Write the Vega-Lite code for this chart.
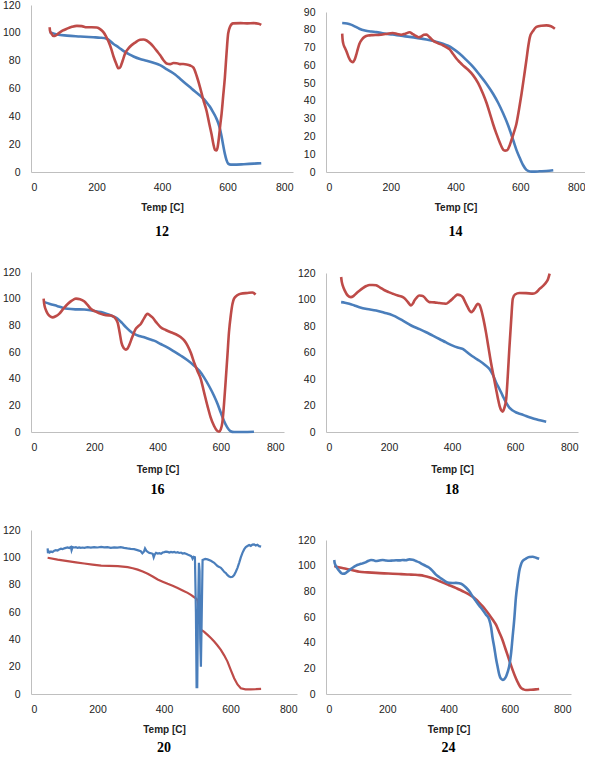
{
  "$schema": "https://vega.github.io/schema/vega-lite/v6.json",
  "background": "white",
  "padding": {"left": 2, "top": 0, "right": 0, "bottom": 0},
  "config": {
    "view": {"stroke": null},
    "axis": {"grid": false, "ticks": false, "tickSize": 0, "domainColor": "#bfbfbf", "domainWidth": 1, "labelFont": "Liberation Sans", "labelFontSize": 10.5, "labelColor": "#222", "titleFont": "Liberation Sans", "titleFontSize": 10, "titleFontWeight": "bold", "titleColor": "#222"},
    "axisX": {"labelPadding": 10.5},
    "axisY": {"labelPadding": 11},
    "title": {"orient": "bottom", "font": "Liberation Serif", "fontSize": 14, "fontWeight": "bold", "color": "#000"},
    "line": {"strokeWidth": 2.6, "interpolate": "monotone"}
  },
  "datasets": {
    "p12": [
      {"s":"b","t":57,"v":100.5},{"s":"b","t":80,"v":98.8},{"s":"b","t":110,"v":98},{"s":"b","t":150,"v":97.4},{"s":"b","t":190,"v":96.8},{"s":"b","t":211,"v":96.5},{"s":"b","t":231,"v":95.8},{"s":"b","t":252,"v":92},{"s":"b","t":268,"v":89.5},{"s":"b","t":282,"v":87},{"s":"b","t":300,"v":84.5},{"s":"b","t":313,"v":83},{"s":"b","t":333,"v":81.2},{"s":"b","t":353,"v":80},{"s":"b","t":374,"v":78.5},{"s":"b","t":394,"v":76.8},{"s":"b","t":410,"v":74.5},{"s":"b","t":424,"v":72.5},{"s":"b","t":440,"v":70},{"s":"b","t":455,"v":67},{"s":"b","t":470,"v":64},{"s":"b","t":485,"v":61},{"s":"b","t":500,"v":58},{"s":"b","t":516,"v":55},{"s":"b","t":528,"v":52.3},{"s":"b","t":536,"v":50},{"s":"b","t":546,"v":47},{"s":"b","t":556,"v":43},{"s":"b","t":564,"v":39.5},{"s":"b","t":572,"v":35},{"s":"b","t":578,"v":30},{"s":"b","t":582,"v":25.5},{"s":"b","t":587,"v":19},{"s":"b","t":592,"v":13},{"s":"b","t":597,"v":8.5},{"s":"b","t":602,"v":6},{"s":"b","t":610,"v":5.3},{"s":"b","t":617,"v":5.3},{"s":"b","t":650,"v":5.6},{"s":"b","t":680,"v":6},{"s":"b","t":703,"v":6.4},
      {"s":"r","t":57,"v":104},{"s":"r","t":58,"v":101.5},{"s":"r","t":62,"v":99.6},{"s":"r","t":69,"v":97.7},{"s":"r","t":76,"v":98.2},{"s":"r","t":84,"v":99.6},{"s":"r","t":96,"v":101.5},{"s":"r","t":110,"v":103},{"s":"r","t":125,"v":104.3},{"s":"r","t":140,"v":105},{"s":"r","t":155,"v":104.8},{"s":"r","t":170,"v":104},{"s":"r","t":185,"v":104},{"s":"r","t":201,"v":103.8},{"s":"r","t":212,"v":102.5},{"s":"r","t":221,"v":100.5},{"s":"r","t":229,"v":97.5},{"s":"r","t":237,"v":93.6},{"s":"r","t":245,"v":88.5},{"s":"r","t":252,"v":83},{"s":"r","t":260,"v":78},{"s":"r","t":267,"v":74.5},{"s":"r","t":272,"v":75},{"s":"r","t":277,"v":78},{"s":"r","t":282,"v":81.5},{"s":"r","t":287,"v":85},{"s":"r","t":295,"v":88},{"s":"r","t":302,"v":90},{"s":"r","t":318,"v":93},{"s":"r","t":333,"v":95},{"s":"r","t":343,"v":95.2},{"s":"r","t":353,"v":94.5},{"s":"r","t":364,"v":92.5},{"s":"r","t":374,"v":90},{"s":"r","t":384,"v":87},{"s":"r","t":394,"v":84},{"s":"r","t":404,"v":80.5},{"s":"r","t":414,"v":78},{"s":"r","t":425,"v":77.5},{"s":"r","t":435,"v":78.3},{"s":"r","t":445,"v":78.2},{"s":"r","t":455,"v":77.5},{"s":"r","t":465,"v":77.6},{"s":"r","t":475,"v":77.3},{"s":"r","t":486,"v":76.5},{"s":"r","t":496,"v":75},{"s":"r","t":506,"v":69},{"s":"r","t":516,"v":61},{"s":"r","t":526,"v":52},{"s":"r","t":536,"v":44},{"s":"r","t":544,"v":35},{"s":"r","t":551,"v":27.5},{"s":"r","t":557,"v":20},{"s":"r","t":562,"v":15.8},{"s":"r","t":566,"v":15.5},{"s":"r","t":570,"v":18},{"s":"r","t":574,"v":25},{"s":"r","t":578,"v":34},{"s":"r","t":582,"v":42},{"s":"r","t":587,"v":55},{"s":"r","t":592,"v":68},{"s":"r","t":597,"v":85},{"s":"r","t":602,"v":99.5},{"s":"r","t":608,"v":104.5},{"s":"r","t":617,"v":106.8},{"s":"r","t":640,"v":107},{"s":"r","t":660,"v":106.8},{"s":"r","t":680,"v":107},{"s":"r","t":695,"v":106.6},{"s":"r","t":703,"v":105.7}
    ],
    "p14": [
      {"s":"b","t":50,"v":83.8},{"s":"b","t":65,"v":83.5},{"s":"b","t":77,"v":82.9},{"s":"b","t":90,"v":81.8},{"s":"b","t":103,"v":80.6},{"s":"b","t":120,"v":79.6},{"s":"b","t":140,"v":79},{"s":"b","t":155,"v":78.7},{"s":"b","t":180,"v":77.9},{"s":"b","t":206,"v":77.3},{"s":"b","t":232,"v":76.6},{"s":"b","t":258,"v":76},{"s":"b","t":284,"v":75.3},{"s":"b","t":310,"v":74.5},{"s":"b","t":336,"v":73.5},{"s":"b","t":361,"v":72.2},{"s":"b","t":377,"v":71},{"s":"b","t":392,"v":69.4},{"s":"b","t":413,"v":66.5},{"s":"b","t":434,"v":62.9},{"s":"b","t":455,"v":59},{"s":"b","t":475,"v":54.5},{"s":"b","t":496,"v":49.5},{"s":"b","t":516,"v":44},{"s":"b","t":532,"v":38.8},{"s":"b","t":547,"v":33},{"s":"b","t":563,"v":26},{"s":"b","t":578,"v":18},{"s":"b","t":589,"v":12},{"s":"b","t":599,"v":7.7},{"s":"b","t":609,"v":3.8},{"s":"b","t":619,"v":1.2},{"s":"b","t":630,"v":0.3},{"s":"b","t":640,"v":0.2},{"s":"b","t":660,"v":0.4},{"s":"b","t":680,"v":0.6},{"s":"b","t":702,"v":1},
      {"s":"r","t":50,"v":77.8},{"s":"r","t":51,"v":75},{"s":"r","t":53,"v":72.5},{"s":"r","t":58,"v":70},{"s":"r","t":64,"v":67.5},{"s":"r","t":70,"v":64.5},{"s":"r","t":76,"v":62.5},{"s":"r","t":83,"v":61.8},{"s":"r","t":88,"v":63},{"s":"r","t":93,"v":65.7},{"s":"r","t":98,"v":69},{"s":"r","t":103,"v":72},{"s":"r","t":111,"v":74.5},{"s":"r","t":119,"v":76},{"s":"r","t":130,"v":76.8},{"s":"r","t":144,"v":77},{"s":"r","t":160,"v":77.1},{"s":"r","t":175,"v":77.3},{"s":"r","t":190,"v":77.8},{"s":"r","t":206,"v":78.2},{"s":"r","t":220,"v":77.6},{"s":"r","t":232,"v":77.2},{"s":"r","t":245,"v":77.8},{"s":"r","t":258,"v":78.6},{"s":"r","t":268,"v":77.6},{"s":"r","t":278,"v":76.5},{"s":"r","t":286,"v":75.8},{"s":"r","t":294,"v":76.2},{"s":"r","t":302,"v":77.2},{"s":"r","t":310,"v":77.3},{"s":"r","t":320,"v":75.8},{"s":"r","t":330,"v":74},{"s":"r","t":345,"v":72.5},{"s":"r","t":361,"v":71.3},{"s":"r","t":375,"v":69.8},{"s":"r","t":382,"v":69},{"s":"r","t":392,"v":66.5},{"s":"r","t":402,"v":64},{"s":"r","t":413,"v":61.8},{"s":"r","t":423,"v":60},{"s":"r","t":439,"v":57.5},{"s":"r","t":454,"v":54.5},{"s":"r","t":470,"v":50},{"s":"r","t":485,"v":44},{"s":"r","t":496,"v":38.8},{"s":"r","t":506,"v":33},{"s":"r","t":516,"v":27},{"s":"r","t":526,"v":21.7},{"s":"r","t":537,"v":16.5},{"s":"r","t":547,"v":12.6},{"s":"r","t":553,"v":12},{"s":"r","t":560,"v":12.3},{"s":"r","t":567,"v":14.8},{"s":"r","t":573,"v":18},{"s":"r","t":580,"v":22},{"s":"r","t":588,"v":27},{"s":"r","t":596,"v":35},{"s":"r","t":604,"v":44},{"s":"r","t":612,"v":54},{"s":"r","t":619,"v":63},{"s":"r","t":625,"v":71},{"s":"r","t":630,"v":76},{"s":"r","t":640,"v":79.5},{"s":"r","t":650,"v":81.6},{"s":"r","t":665,"v":82.3},{"s":"r","t":681,"v":82.5},{"s":"r","t":695,"v":82},{"s":"r","t":707,"v":80.6}
    ],
    "p16": [
      {"s":"b","t":42,"v":97.4},{"s":"b","t":60,"v":96},{"s":"b","t":84,"v":94.4},{"s":"b","t":100,"v":93.2},{"s":"b","t":116,"v":92.4},{"s":"b","t":140,"v":92},{"s":"b","t":168,"v":91.9},{"s":"b","t":195,"v":91},{"s":"b","t":221,"v":89.9},{"s":"b","t":240,"v":88.5},{"s":"b","t":253,"v":87.4},{"s":"b","t":264,"v":86.3},{"s":"b","t":274,"v":84.9},{"s":"b","t":287,"v":82},{"s":"b","t":300,"v":78.6},{"s":"b","t":313,"v":75.8},{"s":"b","t":326,"v":73.6},{"s":"b","t":342,"v":72},{"s":"b","t":358,"v":71},{"s":"b","t":373,"v":69.8},{"s":"b","t":389,"v":68.5},{"s":"b","t":410,"v":66},{"s":"b","t":431,"v":63.5},{"s":"b","t":452,"v":60.5},{"s":"b","t":474,"v":57.2},{"s":"b","t":495,"v":53.8},{"s":"b","t":516,"v":49.7},{"s":"b","t":532,"v":46},{"s":"b","t":547,"v":41},{"s":"b","t":563,"v":34.5},{"s":"b","t":579,"v":27},{"s":"b","t":590,"v":21},{"s":"b","t":600,"v":14.6},{"s":"b","t":610,"v":8.5},{"s":"b","t":621,"v":3.3},{"s":"b","t":631,"v":0.6},{"s":"b","t":642,"v":0},{"s":"b","t":670,"v":0},{"s":"b","t":705,"v":0.2},
      {"s":"r","t":40,"v":100},{"s":"r","t":41,"v":97.5},{"s":"r","t":43,"v":94.5},{"s":"r","t":48,"v":91},{"s":"r","t":53,"v":88.6},{"s":"r","t":60,"v":86.8},{"s":"r","t":68,"v":86},{"s":"r","t":78,"v":86.8},{"s":"r","t":89,"v":88.6},{"s":"r","t":102,"v":92.3},{"s":"r","t":116,"v":96},{"s":"r","t":129,"v":98.5},{"s":"r","t":142,"v":100},{"s":"r","t":155,"v":99.6},{"s":"r","t":168,"v":98},{"s":"r","t":179,"v":95.3},{"s":"r","t":189,"v":92.4},{"s":"r","t":205,"v":90.3},{"s":"r","t":221,"v":88.6},{"s":"r","t":237,"v":87.6},{"s":"r","t":253,"v":87.4},{"s":"r","t":264,"v":86},{"s":"r","t":274,"v":82},{"s":"r","t":280,"v":75},{"s":"r","t":286,"v":67},{"s":"r","t":293,"v":63},{"s":"r","t":300,"v":61.8},{"s":"r","t":305,"v":62.5},{"s":"r","t":310,"v":64.8},{"s":"r","t":320,"v":71},{"s":"r","t":331,"v":77.3},{"s":"r","t":340,"v":79.5},{"s":"r","t":347,"v":81},{"s":"r","t":357,"v":85},{"s":"r","t":368,"v":88.6},{"s":"r","t":376,"v":87.5},{"s":"r","t":384,"v":86},{"s":"r","t":397,"v":82},{"s":"r","t":410,"v":78.6},{"s":"r","t":426,"v":76.5},{"s":"r","t":442,"v":74.8},{"s":"r","t":458,"v":73.3},{"s":"r","t":474,"v":71},{"s":"r","t":485,"v":68.5},{"s":"r","t":495,"v":64.8},{"s":"r","t":506,"v":59},{"s":"r","t":516,"v":52},{"s":"r","t":526,"v":46},{"s":"r","t":537,"v":39.7},{"s":"r","t":547,"v":30},{"s":"r","t":558,"v":19.6},{"s":"r","t":568,"v":11},{"s":"r","t":579,"v":4.5},{"s":"r","t":588,"v":1},{"s":"r","t":595,"v":0.2},{"s":"r","t":600,"v":2},{"s":"r","t":605,"v":7},{"s":"r","t":610,"v":20},{"s":"r","t":616,"v":39.7},{"s":"r","t":621,"v":57},{"s":"r","t":626,"v":74.8},{"s":"r","t":632,"v":88},{"s":"r","t":637,"v":96},{"s":"r","t":642,"v":100},{"s":"r","t":652,"v":102.5},{"s":"r","t":663,"v":103.7},{"s":"r","t":685,"v":104.3},{"s":"r","t":700,"v":104.6},{"s":"r","t":705,"v":104.2},{"s":"r","t":710,"v":103}
    ],
    "p18": [
      {"s":"b","t":48,"v":98},{"s":"b","t":60,"v":97.6},{"s":"b","t":74,"v":96.8},{"s":"b","t":90,"v":95.5},{"s":"b","t":106,"v":94.2},{"s":"b","t":130,"v":92.8},{"s":"b","t":159,"v":91.7},{"s":"b","t":185,"v":90},{"s":"b","t":212,"v":88},{"s":"b","t":228,"v":86.2},{"s":"b","t":244,"v":84},{"s":"b","t":260,"v":81.8},{"s":"b","t":275,"v":79.8},{"s":"b","t":297,"v":77.6},{"s":"b","t":318,"v":75.3},{"s":"b","t":339,"v":72.7},{"s":"b","t":360,"v":70.2},{"s":"b","t":381,"v":67.6},{"s":"b","t":402,"v":65.2},{"s":"b","t":418,"v":63.8},{"s":"b","t":434,"v":62.7},{"s":"b","t":445,"v":60.8},{"s":"b","t":455,"v":58.9},{"s":"b","t":471,"v":56.2},{"s":"b","t":487,"v":53.8},{"s":"b","t":503,"v":51},{"s":"b","t":519,"v":47.5},{"s":"b","t":530,"v":43},{"s":"b","t":540,"v":37.4},{"s":"b","t":551,"v":32.3},{"s":"b","t":561,"v":27.3},{"s":"b","t":571,"v":22.5},{"s":"b","t":582,"v":18.4},{"s":"b","t":593,"v":16.2},{"s":"b","t":604,"v":14.7},{"s":"b","t":620,"v":13.4},{"s":"b","t":635,"v":12.1},{"s":"b","t":651,"v":10.8},{"s":"b","t":667,"v":9.6},{"s":"b","t":683,"v":8.6},{"s":"b","t":699,"v":7.8},
      {"s":"r","t":48,"v":117},{"s":"r","t":50,"v":113.5},{"s":"r","t":53,"v":110.7},{"s":"r","t":60,"v":106.5},{"s":"r","t":69,"v":103},{"s":"r","t":79,"v":101.8},{"s":"r","t":87,"v":102.6},{"s":"r","t":95,"v":104.4},{"s":"r","t":106,"v":106.6},{"s":"r","t":117,"v":108.6},{"s":"r","t":128,"v":110.2},{"s":"r","t":138,"v":111},{"s":"r","t":148,"v":111},{"s":"r","t":159,"v":110.7},{"s":"r","t":172,"v":109},{"s":"r","t":186,"v":107},{"s":"r","t":199,"v":105.6},{"s":"r","t":212,"v":104.4},{"s":"r","t":228,"v":103},{"s":"r","t":244,"v":101.8},{"s":"r","t":252,"v":100.3},{"s":"r","t":260,"v":98},{"s":"r","t":265,"v":96.5},{"s":"r","t":270,"v":95.5},{"s":"r","t":276,"v":97},{"s":"r","t":281,"v":99.3},{"s":"r","t":288,"v":101.5},{"s":"r","t":296,"v":103},{"s":"r","t":304,"v":102.8},{"s":"r","t":312,"v":101.8},{"s":"r","t":320,"v":99.5},{"s":"r","t":328,"v":98},{"s":"r","t":344,"v":97.8},{"s":"r","t":360,"v":97.3},{"s":"r","t":372,"v":97},{"s":"r","t":381,"v":96.8},{"s":"r","t":392,"v":98.5},{"s":"r","t":402,"v":100.6},{"s":"r","t":410,"v":102.5},{"s":"r","t":418,"v":103.7},{"s":"r","t":426,"v":103.2},{"s":"r","t":434,"v":101.8},{"s":"r","t":442,"v":98},{"s":"r","t":450,"v":94.2},{"s":"r","t":456,"v":91.5},{"s":"r","t":461,"v":90.4},{"s":"r","t":466,"v":91.3},{"s":"r","t":471,"v":93},{"s":"r","t":477,"v":95.5},{"s":"r","t":482,"v":96.8},{"s":"r","t":487,"v":96},{"s":"r","t":492,"v":93},{"s":"r","t":500,"v":85},{"s":"r","t":508,"v":75},{"s":"r","t":516,"v":63.5},{"s":"r","t":524,"v":52},{"s":"r","t":532,"v":42},{"s":"r","t":540,"v":32.3},{"s":"r","t":546,"v":25},{"s":"r","t":551,"v":19.7},{"s":"r","t":556,"v":16.5},{"s":"r","t":561,"v":15.4},{"s":"r","t":566,"v":18},{"s":"r","t":572,"v":24.8},{"s":"r","t":577,"v":42},{"s":"r","t":582,"v":62.7},{"s":"r","t":588,"v":85},{"s":"r","t":593,"v":100.6},{"s":"r","t":600,"v":103.8},{"s":"r","t":614,"v":104.9},{"s":"r","t":635,"v":104.8},{"s":"r","t":657,"v":104.4},{"s":"r","t":668,"v":105.5},{"s":"r","t":678,"v":108},{"s":"r","t":690,"v":110.5},{"s":"r","t":699,"v":113},{"s":"r","t":705,"v":115.5},{"s":"r","t":710,"v":119.5}
    ],
    "p20": [
      {"s":"r","t":50,"v":99.7},{"s":"r","t":80,"v":98.3},{"s":"r","t":110,"v":97.2},{"s":"r","t":135,"v":96.3},{"s":"r","t":160,"v":95.5},{"s":"r","t":185,"v":94.7},{"s":"r","t":211,"v":94},{"s":"r","t":236,"v":93.7},{"s":"r","t":261,"v":93.5},{"s":"r","t":276,"v":93.2},{"s":"r","t":291,"v":92.8},{"s":"r","t":306,"v":92},{"s":"r","t":321,"v":91},{"s":"r","t":336,"v":89.6},{"s":"r","t":351,"v":88},{"s":"r","t":366,"v":86},{"s":"r","t":381,"v":83.8},{"s":"r","t":396,"v":82.2},{"s":"r","t":411,"v":80.6},{"s":"r","t":426,"v":79.2},{"s":"r","t":441,"v":77.6},{"s":"r","t":456,"v":75.8},{"s":"r","t":471,"v":74},{"s":"r","t":481,"v":72.5},{"s":"r","t":491,"v":70.8},{"s":"r","t":498,"v":69.5},{"s":"r","t":501,"v":68.3},{"s":"r","t":506,"v":60},{"s":"r","t":511,"v":47},{"s":"r","t":521,"v":45.5},{"s":"r","t":531,"v":43.3},{"s":"r","t":541,"v":41},{"s":"r","t":551,"v":38.4},{"s":"r","t":561,"v":35.5},{"s":"r","t":571,"v":32.3},{"s":"r","t":581,"v":28.3},{"s":"r","t":591,"v":23.7},{"s":"r","t":601,"v":17.5},{"s":"r","t":611,"v":11.5},{"s":"r","t":621,"v":7},{"s":"r","t":631,"v":4.2},{"s":"r","t":645,"v":3.4},{"s":"r","t":661,"v":3.4},{"s":"r","t":676,"v":3.5},{"s":"r","t":692,"v":3.7},
      {"s":"b","t":50,"v":106.5},{"s":"b","t":51,"v":103},{"s":"b","t":53,"v":104.5},{"s":"b","t":56,"v":103.5},{"s":"b","t":60,"v":104.2},{"s":"b","t":65,"v":103.8},{"s":"b","t":70,"v":104.8},{"s":"b","t":75,"v":105.2},{"s":"b","t":80,"v":105},{"s":"b","t":85,"v":105.8},{"s":"b","t":90,"v":106.3},{"s":"b","t":95,"v":106},{"s":"b","t":100,"v":106.6},{"s":"b","t":105,"v":106.9},{"s":"b","t":110,"v":107.2},{"s":"b","t":115,"v":106.8},{"s":"b","t":120,"v":107.6},{"s":"b","t":122,"v":105.2},{"s":"b","t":125,"v":107.5},{"s":"b","t":130,"v":107.2},{"s":"b","t":135,"v":107.4},{"s":"b","t":140,"v":106.9},{"s":"b","t":145,"v":107.3},{"s":"b","t":150,"v":107},{"s":"b","t":155,"v":107.2},{"s":"b","t":160,"v":107},{"s":"b","t":170,"v":107.4},{"s":"b","t":180,"v":107.1},{"s":"b","t":190,"v":107.5},{"s":"b","t":200,"v":107.2},{"s":"b","t":211,"v":107.6},{"s":"b","t":220,"v":107.3},{"s":"b","t":230,"v":107.5},{"s":"b","t":240,"v":107},{"s":"b","t":250,"v":107.3},{"s":"b","t":260,"v":107.1},{"s":"b","t":270,"v":107.5},{"s":"b","t":280,"v":106.9},{"s":"b","t":290,"v":106.5},{"s":"b","t":300,"v":106.2},{"s":"b","t":310,"v":106},{"s":"b","t":320,"v":105.3},{"s":"b","t":330,"v":104.5},{"s":"b","t":335,"v":103},{"s":"b","t":340,"v":104.3},{"s":"b","t":343,"v":106.5},{"s":"b","t":347,"v":104.8},{"s":"b","t":351,"v":104},{"s":"b","t":356,"v":103.2},{"s":"b","t":361,"v":103},{"s":"b","t":366,"v":102.6},{"s":"b","t":369,"v":100},{"s":"b","t":372,"v":102},{"s":"b","t":376,"v":103.3},{"s":"b","t":381,"v":102.8},{"s":"b","t":386,"v":103.1},{"s":"b","t":391,"v":102.6},{"s":"b","t":396,"v":103.5},{"s":"b","t":401,"v":103.8},{"s":"b","t":406,"v":104.2},{"s":"b","t":411,"v":104},{"s":"b","t":416,"v":103.5},{"s":"b","t":421,"v":104},{"s":"b","t":426,"v":103.6},{"s":"b","t":431,"v":103.9},{"s":"b","t":436,"v":103.4},{"s":"b","t":441,"v":103.8},{"s":"b","t":446,"v":103.2},{"s":"b","t":451,"v":103.5},{"s":"b","t":456,"v":102.8},{"s":"b","t":461,"v":103},{"s":"b","t":466,"v":102.6},{"s":"b","t":471,"v":102},{"s":"b","t":476,"v":101.5},{"s":"b","t":481,"v":101},{"s":"b","t":484,"v":100.2},{"s":"b","t":486,"v":99},{"s":"b","t":489,"v":100.4},{"s":"b","t":493,"v":100},{"s":"b","t":496,"v":60},{"s":"b","t":498,"v":5},{"s":"b","t":500,"v":5},{"s":"b","t":502,"v":55},{"s":"b","t":505,"v":96},{"s":"b","t":507,"v":90},{"s":"b","t":509,"v":40},{"s":"b","t":511,"v":20},{"s":"b","t":513,"v":50},{"s":"b","t":516,"v":98},{"s":"b","t":524,"v":98.8},{"s":"b","t":531,"v":98.5},{"s":"b","t":541,"v":97.5},{"s":"b","t":551,"v":96},{"s":"b","t":556,"v":94.8},{"s":"b","t":561,"v":93.6},{"s":"b","t":566,"v":93},{"s":"b","t":571,"v":92.3},{"s":"b","t":576,"v":91},{"s":"b","t":581,"v":89.4},{"s":"b","t":586,"v":88.5},{"s":"b","t":591,"v":87},{"s":"b","t":596,"v":86},{"s":"b","t":601,"v":85.5},{"s":"b","t":606,"v":85.8},{"s":"b","t":611,"v":87},{"s":"b","t":616,"v":89.5},{"s":"b","t":621,"v":92.3},{"s":"b","t":626,"v":96},{"s":"b","t":631,"v":100},{"s":"b","t":636,"v":103.3},{"s":"b","t":641,"v":105.8},{"s":"b","t":646,"v":107.5},{"s":"b","t":651,"v":108.3},{"s":"b","t":656,"v":109},{"s":"b","t":661,"v":108.4},{"s":"b","t":666,"v":109.3},{"s":"b","t":671,"v":109.5},{"s":"b","t":676,"v":108.6},{"s":"b","t":681,"v":109.2},{"s":"b","t":686,"v":108.2},{"s":"b","t":692,"v":107.8}
    ],
    "p24": [
      {"s":"r","t":27,"v":99.7},{"s":"r","t":45,"v":98.5},{"s":"r","t":65,"v":97.6},{"s":"r","t":87,"v":96.4},{"s":"r","t":109,"v":95.2},{"s":"r","t":136,"v":94.8},{"s":"r","t":163,"v":94.4},{"s":"r","t":190,"v":94},{"s":"r","t":218,"v":93.7},{"s":"r","t":245,"v":93.4},{"s":"r","t":272,"v":93.1},{"s":"r","t":289,"v":92.9},{"s":"r","t":305,"v":92.6},{"s":"r","t":321,"v":92},{"s":"r","t":337,"v":91},{"s":"r","t":354,"v":89.6},{"s":"r","t":370,"v":88},{"s":"r","t":386,"v":86.4},{"s":"r","t":402,"v":84.8},{"s":"r","t":419,"v":83.2},{"s":"r","t":435,"v":81.4},{"s":"r","t":451,"v":79.6},{"s":"r","t":468,"v":77.5},{"s":"r","t":479,"v":75.8},{"s":"r","t":490,"v":73.6},{"s":"r","t":500,"v":71.2},{"s":"r","t":511,"v":68.4},{"s":"r","t":522,"v":65.3},{"s":"r","t":533,"v":61.8},{"s":"r","t":544,"v":58},{"s":"r","t":555,"v":54},{"s":"r","t":565,"v":48.5},{"s":"r","t":576,"v":42.3},{"s":"r","t":587,"v":34.5},{"s":"r","t":598,"v":26.6},{"s":"r","t":609,"v":19},{"s":"r","t":620,"v":12.3},{"s":"r","t":628,"v":8.2},{"s":"r","t":636,"v":5},{"s":"r","t":645,"v":3.6},{"s":"r","t":653,"v":3.1},{"s":"r","t":670,"v":3.3},{"s":"r","t":685,"v":3.6},{"s":"r","t":696,"v":3.9},
      {"s":"b","t":27,"v":104.4},{"s":"b","t":28,"v":102.5},{"s":"b","t":30,"v":101},{"s":"b","t":36,"v":98.3},{"s":"b","t":44,"v":95.7},{"s":"b","t":50,"v":94.2},{"s":"b","t":54,"v":93.7},{"s":"b","t":60,"v":93.8},{"s":"b","t":65,"v":94.4},{"s":"b","t":76,"v":96.5},{"s":"b","t":87,"v":98.4},{"s":"b","t":98,"v":100},{"s":"b","t":109,"v":101},{"s":"b","t":120,"v":101.8},{"s":"b","t":131,"v":102.8},{"s":"b","t":139,"v":103.8},{"s":"b","t":147,"v":104.4},{"s":"b","t":155,"v":104.2},{"s":"b","t":163,"v":103.6},{"s":"b","t":174,"v":104},{"s":"b","t":185,"v":104.4},{"s":"b","t":196,"v":104},{"s":"b","t":207,"v":103.8},{"s":"b","t":218,"v":104},{"s":"b","t":229,"v":104.2},{"s":"b","t":240,"v":104.1},{"s":"b","t":250,"v":104.4},{"s":"b","t":261,"v":104.2},{"s":"b","t":272,"v":104.9},{"s":"b","t":283,"v":104.6},{"s":"b","t":294,"v":103.6},{"s":"b","t":305,"v":102.5},{"s":"b","t":316,"v":101},{"s":"b","t":327,"v":99.7},{"s":"b","t":337,"v":98.4},{"s":"b","t":348,"v":96},{"s":"b","t":359,"v":93},{"s":"b","t":370,"v":91},{"s":"b","t":381,"v":89.2},{"s":"b","t":391,"v":87.5},{"s":"b","t":402,"v":86.6},{"s":"b","t":413,"v":86.5},{"s":"b","t":424,"v":86.6},{"s":"b","t":435,"v":86.3},{"s":"b","t":446,"v":85.3},{"s":"b","t":457,"v":83},{"s":"b","t":468,"v":80},{"s":"b","t":479,"v":76},{"s":"b","t":490,"v":72.3},{"s":"b","t":500,"v":69},{"s":"b","t":511,"v":65.7},{"s":"b","t":522,"v":62},{"s":"b","t":533,"v":57.9},{"s":"b","t":539,"v":52},{"s":"b","t":544,"v":43.6},{"s":"b","t":550,"v":35.5},{"s":"b","t":555,"v":27.9},{"s":"b","t":561,"v":20.5},{"s":"b","t":566,"v":14.9},{"s":"b","t":571,"v":12},{"s":"b","t":577,"v":11},{"s":"b","t":582,"v":11.5},{"s":"b","t":588,"v":13.6},{"s":"b","t":593,"v":17},{"s":"b","t":598,"v":21.4},{"s":"b","t":604,"v":31},{"s":"b","t":609,"v":43.6},{"s":"b","t":615,"v":59},{"s":"b","t":620,"v":74.9},{"s":"b","t":626,"v":87},{"s":"b","t":631,"v":95.7},{"s":"b","t":636,"v":100.5},{"s":"b","t":642,"v":103.6},{"s":"b","t":653,"v":105.5},{"s":"b","t":664,"v":106.7},{"s":"b","t":675,"v":106.9},{"s":"b","t":686,"v":106.2},{"s":"b","t":696,"v":105.4}
    ]
  },
  "spacing": 28,
  "vconcat": [
    {
      "spacing": 10,
      "hconcat": [
        {
          "width": 262, "height": 167,
          "title": {"text": "12", "offset": 13},
          "data": {"name": "p12"},
          "mark": {"type": "line"},
          "encoding": {
            "x": {"field": "t", "type": "quantitative", "scale": {"domain": [0, 800]}, "axis": {"values": [0, 200, 400, 600, 800], "title": "Temp [C]", "titlePadding": 9}},
            "y": {"field": "v", "type": "quantitative", "scale": {"domain": [0, 120]}, "axis": {"values": [0, 20, 40, 60, 80, 100, 120], "title": null}},
            "color": {"field": "s", "type": "nominal", "scale": {"domain": ["b", "r"], "range": ["#4a7ebb", "#be4b48"]}, "legend": null}
          }
        },
        {
          "width": 259, "height": 167,
          "title": {"text": "14", "offset": 13},
          "data": {"name": "p14"},
          "mark": {"type": "line"},
          "encoding": {
            "x": {"field": "t", "type": "quantitative", "scale": {"domain": [0, 800]}, "axis": {"values": [0, 200, 400, 600, 800], "title": "Temp [C]", "titlePadding": 9}},
            "y": {"field": "v", "type": "quantitative", "scale": {"domain": [0, 90], "range": [167, 7]}, "axis": {"values": [0, 10, 20, 30, 40, 50, 60, 70, 80, 90], "title": null}},
            "color": {"field": "s", "type": "nominal", "scale": {"domain": ["b", "r"], "range": ["#4a7ebb", "#be4b48"]}, "legend": null}
          }
        }
      ]
    },
    {
      "spacing": 13,
      "hconcat": [
        {
          "width": 253, "height": 160,
          "title": {"text": "16", "offset": 9},
          "data": {"name": "p16"},
          "mark": {"type": "line"},
          "encoding": {
            "x": {"field": "t", "type": "quantitative", "scale": {"domain": [0, 800]}, "axis": {"values": [0, 200, 400, 600, 800], "title": "Temp [C]", "titlePadding": 11}},
            "y": {"field": "v", "type": "quantitative", "scale": {"domain": [0, 120]}, "axis": {"values": [0, 20, 40, 60, 80, 100, 120], "title": null}},
            "color": {"field": "s", "type": "nominal", "scale": {"domain": ["b", "r"], "range": ["#4a7ebb", "#be4b48"]}, "legend": null}
          }
        },
        {
          "width": 252, "height": 160,
          "title": {"text": "18", "offset": 9},
          "data": {"name": "p18"},
          "mark": {"type": "line"},
          "encoding": {
            "x": {"field": "t", "type": "quantitative", "scale": {"domain": [0, 800]}, "axis": {"values": [0, 200, 400, 600, 800], "title": "Temp [C]", "titlePadding": 11}},
            "y": {"field": "v", "type": "quantitative", "scale": {"domain": [0, 120], "range": [160, 1]}, "axis": {"values": [0, 20, 40, 60, 80, 100, 120], "title": null}},
            "color": {"field": "s", "type": "nominal", "scale": {"domain": ["b", "r"], "range": ["#4a7ebb", "#be4b48"]}, "legend": null}
          }
        }
      ]
    },
    {
      "spacing": 0,
      "hconcat": [
        {
          "width": 266, "height": 164,
          "title": {"text": "20", "offset": 7},
          "data": {"name": "p20"},
          "mark": {"type": "line", "interpolate": "linear", "strokeWidth": 2.2},
          "encoding": {
            "x": {"field": "t", "type": "quantitative", "scale": {"domain": [0, 800]}, "axis": {"values": [0, 200, 400, 600, 800], "title": "Temp [C]", "titlePadding": 9}},
            "y": {"field": "v", "type": "quantitative", "scale": {"domain": [0, 120]}, "axis": {"values": [0, 20, 40, 60, 80, 100, 120], "title": null}},
            "color": {"field": "s", "type": "nominal", "scale": {"domain": ["b", "r"], "range": ["#4a7ebb", "#be4b48"]}, "legend": null}
          }
        },
        {
          "width": 245, "height": 164,
          "title": {"text": "24", "offset": 7},
          "data": {"name": "p24"},
          "mark": {"type": "line"},
          "encoding": {
            "x": {"field": "t", "type": "quantitative", "scale": {"domain": [0, 800]}, "axis": {"values": [0, 200, 400, 600, 800], "title": "Temp [C]", "titlePadding": 9}},
            "y": {"field": "v", "type": "quantitative", "scale": {"domain": [0, 120], "range": [164, 10]}, "axis": {"values": [0, 20, 40, 60, 80, 100, 120], "title": null}},
            "color": {"field": "s", "type": "nominal", "scale": {"domain": ["b", "r"], "range": ["#4a7ebb", "#be4b48"]}, "legend": null}
          }
        }
      ]
    }
  ]
}
